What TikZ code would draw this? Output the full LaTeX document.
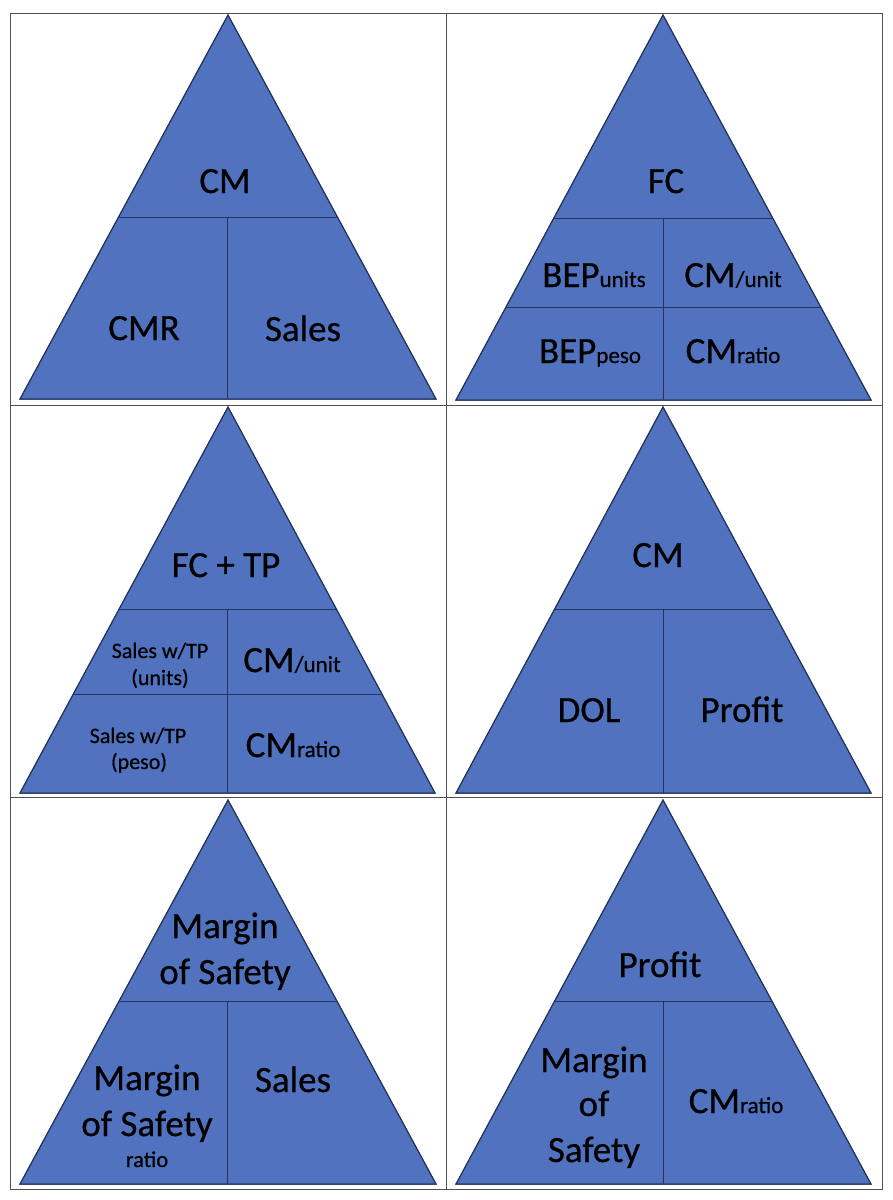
\documentclass[tikz,border=0pt]{standalone}
\usepackage{fontspec}
\setmainfont{Carlito}[FakeBold=0.6]
\definecolor{triblue}{RGB}{80,114,191}
\definecolor{triedge}{RGB}{36,52,96}
\definecolor{gridgray}{RGB}{80,80,80}
\newcommand{\subtxt}[1]{{\fontsize{23}{27}\selectfont #1}}
\tikzset{
  tri/.style={fill=triblue, draw=triedge, line width=1pt, line join=miter},
  divline/.style={draw=triedge, line width=1pt},
  grid/.style={draw=gridgray, line width=1pt},
  big/.style={font=\fontsize{37}{44}\selectfont, inner sep=0pt, anchor=base, text=black},
  small/.style={font=\fontsize{22}{26}\selectfont, inner sep=0pt, anchor=base, text=black},
  tiny/.style={font=\fontsize{22.5}{26}\selectfont, inner sep=0pt, anchor=base, text=black}
}
\begin{document}
\begin{tikzpicture}[x=1pt, y=-1pt]
\useasboundingbox[fill=white] (0,0) rectangle (892,1200);

% table grid
\draw[grid] (10,13) rectangle (882,1189);
\draw[grid] (446,13) -- (446,1189);
\draw[grid] (10,405) -- (882,405);
\draw[grid] (10,797) -- (882,797);

% ---------- Triangle 1 ----------
\path[tri] (228,15) -- (436,399) -- (20,399) -- cycle;
\begin{scope}
  \clip (228,15) -- (436,399) -- (20,399) -- cycle;
  \draw[divline] (0,217) -- (892,217);
  \draw[divline] (227,217) -- (227,400);
\end{scope}
\draw[tri, fill=none] (228,15) -- (436,399) -- (20,399) -- cycle;
\node[big] (t1top) at (225,193) {CM};
\node[big] (t1l) at (144,340) {CMR};
\node[big] (t1r) at (303,341) {Sales};

% ---------- Triangle 2 ----------
\path[tri] (663,15) -- (871,400) -- (456,400) -- cycle;
\begin{scope}
  \clip (663,15) -- (871,400) -- (456,400) -- cycle;
  \draw[divline] (446,218) -- (892,218);
  \draw[divline] (446,307) -- (892,307);
  \draw[divline] (663,218) -- (663,401);
\end{scope}
\draw[tri, fill=none] (663,15) -- (871,400) -- (456,400) -- cycle;
\node[big] (t2top) at (666,193) {FC};
\node[big] (t2a) at (594,287) {BEP\subtxt{units}};
\node[big] (t2b) at (733,287) {CM\subtxt{/unit}};
\node[big] (t2c) at (590,363) {BEP\subtxt{peso}};
\node[big] (t2d) at (733,363) {CM\subtxt{ratio}};

% ---------- Triangle 3 ----------
\path[tri] (228,407) -- (435,793) -- (20,793) -- cycle;
\begin{scope}
  \clip (228,407) -- (435,793) -- (20,793) -- cycle;
  \draw[divline] (0,609) -- (446,609);
  \draw[divline] (0,694) -- (446,694);
  \draw[divline] (227,609) -- (227,794);
\end{scope}
\draw[tri, fill=none] (228,407) -- (435,793) -- (20,793) -- cycle;
\node[big] (t3top) at (226,577) {FC + TP};
\node[small] (t3a1) at (160,658) {Sales w/TP};
\node[small] (t3a2) at (160,685) {(units)};
\node[big] (t3b) at (292,672) {CM\subtxt{/unit}};
\node[small] (t3c1) at (138,743) {Sales w/TP};
\node[small] (t3c2) at (139,769) {(peso)};
\node[big] (t3d) at (293,757) {CM\subtxt{ratio}};

% ---------- Triangle 4 ----------
\path[tri] (663,407) -- (871,793) -- (456,793) -- cycle;
\begin{scope}
  \clip (663,407) -- (871,793) -- (456,793) -- cycle;
  \draw[divline] (446,609) -- (892,609);
  \draw[divline] (663,609) -- (663,794);
\end{scope}
\draw[tri, fill=none] (663,407) -- (871,793) -- (456,793) -- cycle;
\node[big] (t4top) at (658,567) {CM};
\node[big] (t4l) at (589,722) {DOL};
\node[big] (t4r) at (742,722) {Profit};

% ---------- Triangle 5 ----------
\path[tri] (228,800) -- (436,1184) -- (20,1184) -- cycle;
\begin{scope}
  \clip (228,800) -- (436,1184) -- (20,1184) -- cycle;
  \draw[divline] (0,1001) -- (446,1001);
  \draw[divline] (227,1001) -- (227,1185);
\end{scope}
\draw[tri, fill=none] (228,800) -- (436,1184) -- (20,1184) -- cycle;
\node[big] (t5top1) at (225,938) {Margin};
\node[big] (t5top2) at (225,984) {of Safety};
\node[big] (t5l1) at (147,1090) {Margin};
\node[big] (t5l2) at (147,1136) {of Safety};
\node[tiny] (t5l3) at (147,1167) {ratio};
\node[big] (t5r) at (293,1092) {Sales};

% ---------- Triangle 6 ----------
\path[tri] (663,800) -- (871,1184) -- (456,1184) -- cycle;
\begin{scope}
  \clip (663,800) -- (871,1184) -- (456,1184) -- cycle;
  \draw[divline] (446,1001) -- (892,1001);
  \draw[divline] (663,1001) -- (663,1185);
\end{scope}
\draw[tri, fill=none] (663,800) -- (871,1184) -- (456,1184) -- cycle;
\node[big] (t6top) at (660,977) {Profit};
\node[big] (t6l1) at (594,1072) {Margin};
\node[big] (t6l2) at (594,1116) {of};
\node[big] (t6l3) at (594,1162) {Safety};
\node[big] (t6r) at (736,1113) {CM\subtxt{ratio}};
\end{tikzpicture}
\end{document}
